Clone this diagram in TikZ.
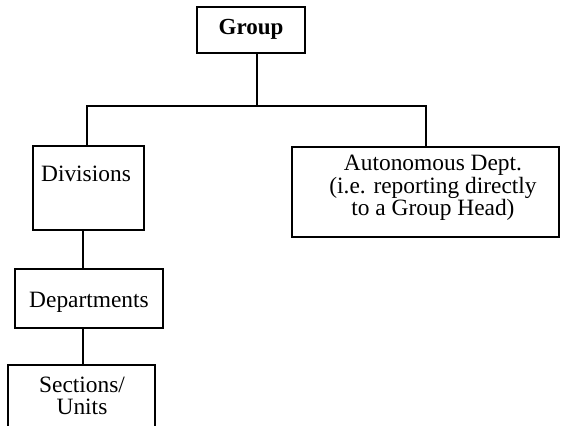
\documentclass[tikz,border=0pt]{standalone}
\usepackage{fontspec}
\setmainfont{Liberation Serif}
\begin{document}
\begin{tikzpicture}[x=0.5pt,y=-0.5pt,
    unitbox/.style={draw, line width=1.4pt, rectangle, inner sep=0pt},
    boxtext/.style={font=\fontsize{11.7}{11.2}\selectfont, align=center, inner sep=0pt},
    link/.style={line width=1.4pt}]
  \useasboundingbox (0,0) rectangle (562,426);
  \clip (0,0) rectangle (562,426);

  % boxes
  \node[unitbox, minimum width=54pt, minimum height=23pt] (group) at (251,30) {};
  \node[unitbox, minimum width=55.5pt, minimum height=42pt] (div) at (88.5,188) {};
  \node[unitbox, minimum width=133.5pt, minimum height=45pt] (auto) at (425.5,192) {};
  \node[unitbox, minimum width=74pt, minimum height=29.5pt] (dep) at (89,298.5) {};
  \node[unitbox, minimum width=73.5pt, minimum height=37.5pt] (sec) at (81.5,402.5) {};

  % labels
  \node[boxtext, font=\fontsize{11.5}{11}\selectfont\bfseries] (grouptxt) at (251,29) {Group};
  \node[boxtext] (divtxt) at (86,174) {Divisions};
  \node[boxtext] (autotxt) at (433,188) {Autonomous Dept.\\(i.e. reporting directly\\to a Group Head)};
  \node[boxtext] (deptxt) at (89,302) {Departments};
  \node[boxtext] (sectxt) at (82,396) {Sections/\\Units};

  % branch points
  \coordinate (j) at (257,106);
  \coordinate (jl) at (87,106);
  \coordinate (jr) at (426,106);
  \coordinate (sp) at (83,0);

  % connectors
  \draw[link] (j |- group.south) -- (j);
  \draw[link] (jl |- div.north) -- (jl) -- (jr) -- (jr |- auto.north);
  \draw[link] (sp |- div.south) -- (sp |- dep.north);
  \draw[link] (sp |- dep.south) -- (sp |- sec.north);
\end{tikzpicture}
\end{document}
